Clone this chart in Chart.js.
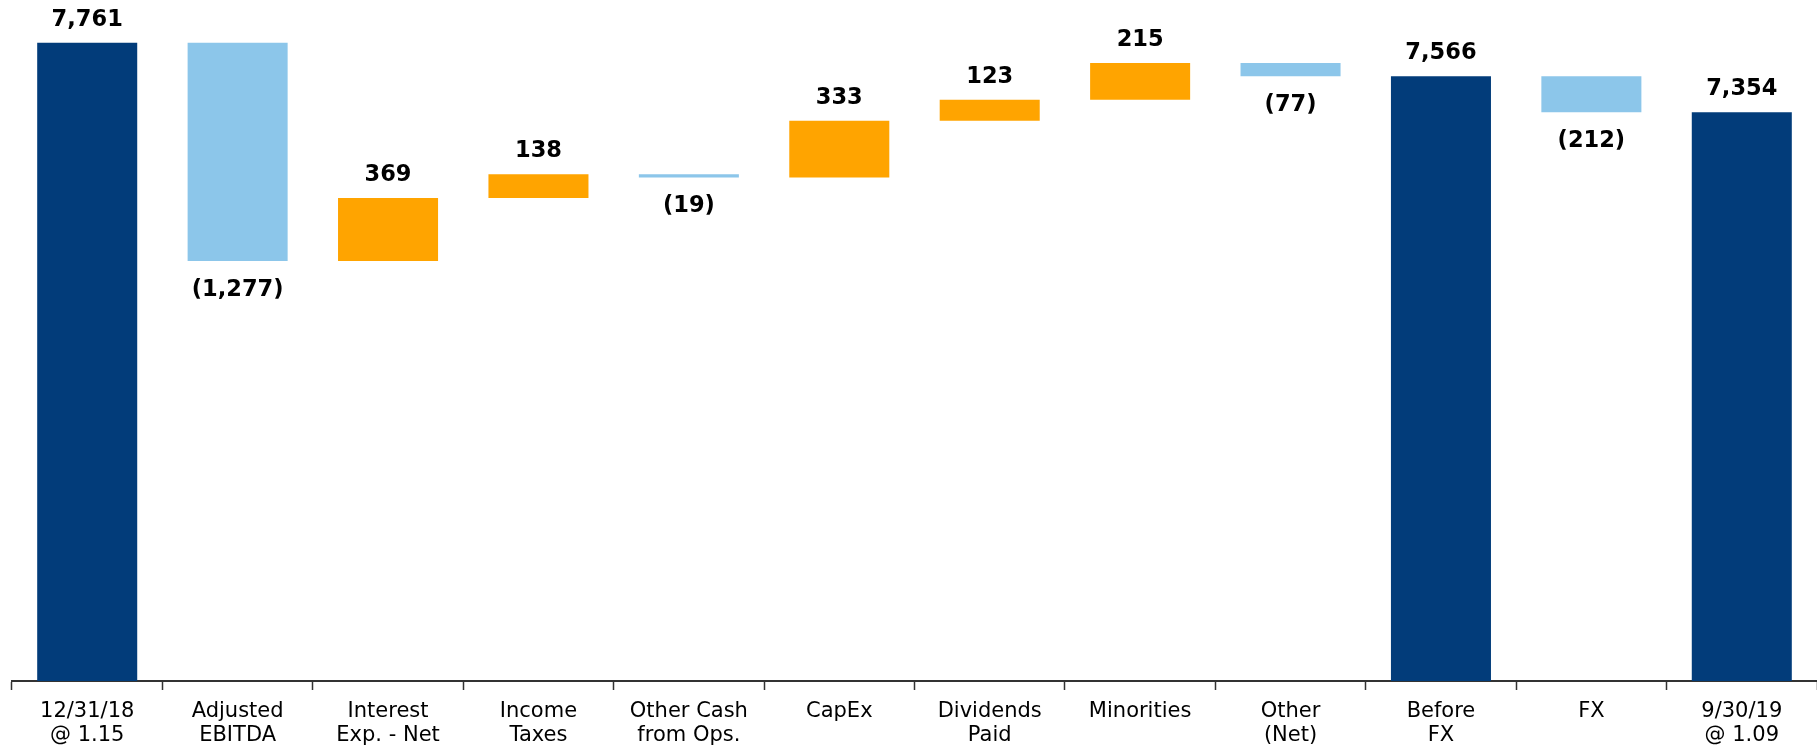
<!DOCTYPE html>
<html>
<head>
<meta charset="utf-8">
<script src="https://cdn.jsdelivr.net/npm/chart.js@4/dist/chart.umd.min.js"></script>
<style>
  html, body { margin: 0; padding: 0; background: #fff; }
  #wrap { width: 1817px; height: 748px; }
</style>
</head>
<body>
<div id="wrap"><canvas id="chart"></canvas></div>
<script>
// labels (two lines each) and the step values of the waterfall
const categories = [
    ['12/31/18', '@ 1.15'], ['Adjusted', 'EBITDA'], ['Interest', 'Exp. - Net'], ['Income', 'Taxes'],
    ['Other Cash', 'from Ops.'], ['CapEx'], ['Dividends', 'Paid'], ['Minorities'],
    ['Other', '(Net)'], ['Before', 'FX'], ['FX'], ['9/30/19', '@ 1.09']
];
const values = [7761, -1277, 369, 138, -19, 333, 123, 215, -77, 7566, -212, 7354];
const kinds = ['total', 'step', 'step', 'step', 'step', 'step', 'step', 'step', 'step', 'total', 'step', 'total'];

const navy = '#023c7a', lightBlue = '#8cc6ea', orange = '#ffa400';

// floating bars built from the running total
let running = 0;
const ranges = values.map((v, i) => {
    if (kinds[i] === 'total') { running = v; return [0, v]; }
    const from = running;
    running += v;
    return [from, running];
});
const colors = values.map((v, i) => kinds[i] === 'total' ? navy : (v < 0 ? lightBlue : orange));

function fmt(v) {
    const s = Math.abs(v).toLocaleString('en-US');
    return v < 0 ? '(' + s + ')' : s;
}

const barLabels = {
    id: 'barLabels',
    afterDatasetsDraw(chart) {
        const ctx = chart.ctx;
        const meta = chart.getDatasetMeta(0);
        ctx.save();
        ctx.font = 'bold 22.5px "DejaVu Sans"';
        ctx.fillStyle = '#000';
        ctx.textAlign = 'center';
        ctx.textBaseline = 'middle';
        meta.data.forEach((bar, i) => {
            const top = Math.min(bar.y, bar.base);
            const bottom = Math.max(bar.y, bar.base);
            if (values[i] < 0) ctx.fillText(fmt(values[i]), bar.x, bottom + 29);
            else ctx.fillText(fmt(values[i]), bar.x, top - 23);
        });
        ctx.restore();
    }
};

new Chart(document.getElementById('chart'), {
    type: 'bar',
    data: {
        labels: categories,
        datasets: [{ data: ranges, backgroundColor: colors, borderWidth: 0, barPercentage: 0.665, categoryPercentage: 1 }]
    },
    options: {
        responsive: true,
        maintainAspectRatio: false,
        animation: false,
        layout: { padding: { left: 12, right: 0, top: 2, bottom: 0 } },
        plugins: { legend: { display: false }, tooltip: { enabled: false } },
        scales: {
            x: {
                afterFit(scale) { scale.height = 67; },
                grid: { offset: true, drawOnChartArea: false, drawTicks: true, tickLength: 9, tickColor: '#333', tickWidth: 1.5 },
                border: { color: '#333', width: 2 },
                ticks: { color: '#000', font: { family: 'DejaVu Sans', size: 21, lineHeight: 1.15 }, padding: 9, maxRotation: 0, autoSkip: false }
            },
            y: { display: false, min: 4025, max: 8000 }
        }
    },
    plugins: [barLabels]
});
</script>
</body>
</html>
